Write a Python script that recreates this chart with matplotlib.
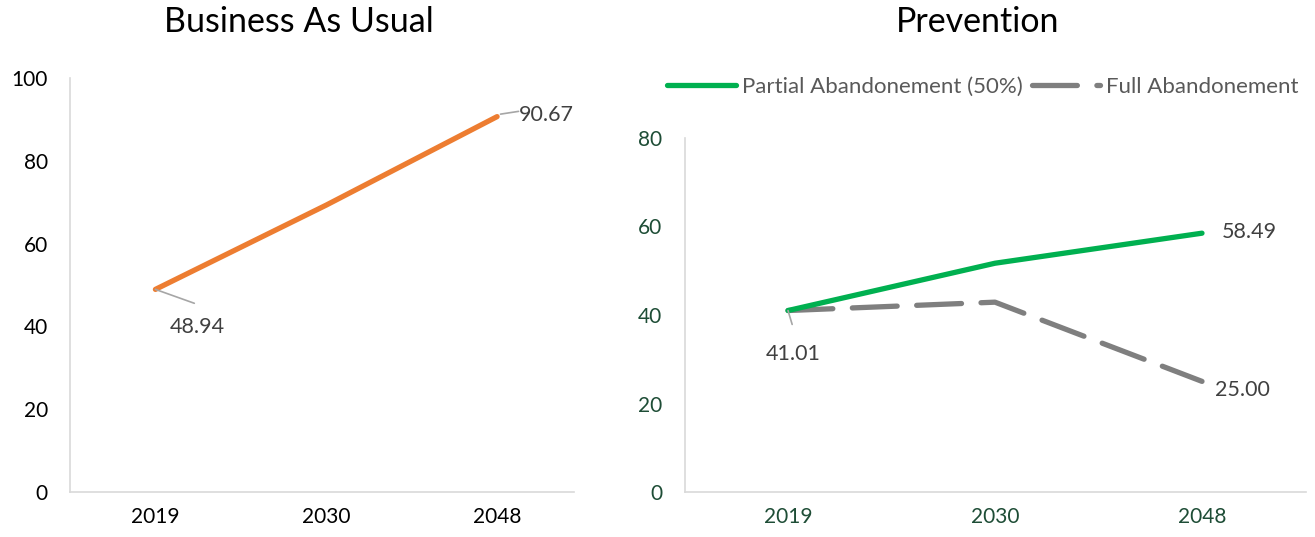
import matplotlib
matplotlib.use("Agg")
import matplotlib.pyplot as plt

plt.rcParams['font.family'] = ['Lato', 'DejaVu Sans']

years = ["2019", "2030", "2048"]
bau = [48.94, 69.3, 90.67]
partial = [41.01, 51.7, 58.49]
full = [41.01, 42.9, 25.00]

ORANGE = "#ED7D31"
GREEN = "#00B050"
GRAY = "#7F7F7F"
AXC = "#D9D9D9"
LBL = "#404040"
DKGREEN = "#1E4D36"

fig = plt.figure(figsize=(13.15, 5.37), dpi=100)
ax1 = fig.add_axes([70/1315, 1-492/537, 512.5/1315, (492-78)/537])
ax2 = fig.add_axes([684.5/1315, 1-492/537, 621/1315, (492-138)/537])

x = list(range(len(years)))

def style(ax, ymax, tickcolor):
    ax.set_xlim(-0.5, 2.5)
    ax.set_ylim(0, ymax)
    ax.set_yticks(range(0, ymax + 1, 20))
    ax.set_xticks(x)
    ax.set_xticklabels(years)
    for s in ['top', 'right']:
        ax.spines[s].set_visible(False)
    for s in ['left', 'bottom']:
        ax.spines[s].set_color(AXC)
        ax.spines[s].set_linewidth(1.2)
    ax.tick_params(axis='y', length=0, pad=16, labelsize=15, labelcolor=tickcolor)
    ax.tick_params(axis='x', length=0, pad=11, labelsize=15, labelcolor=tickcolor)

style(ax1, 100, "#000000")
style(ax2, 80, DKGREEN)
ax1.spines['bottom'].set_bounds(-0.5, 2.45)

ax1.plot(x, bau, color=ORANGE, lw=3.8, solid_capstyle='round', solid_joinstyle='round')
ax2.plot(x, partial, color=GREEN, lw=3.8, solid_capstyle='round', solid_joinstyle='round',
         label="Partial Abandonement (50%)", zorder=3)
ax2.plot(x, full, color=GRAY, lw=3.8, dashes=(8.5, 3.7), dash_capstyle='round',
         label="Full Abandonement", zorder=2)

FS = 15.5
lead = dict(arrowstyle='-', color="#A6A6A6", lw=1.2, shrinkA=0, shrinkB=0)
ax1.annotate(f"{bau[0]:.2f}", xy=(x[0], bau[0]), xytext=(10, -27), textcoords='offset points',
             fontsize=FS, color=LBL, ha='left', va='center')
ax1.annotate("", xy=(x[0], bau[0]), xytext=(28, -10), textcoords='offset points', arrowprops=lead)
ax1.annotate(f"{bau[2]:.2f}", xy=(x[2], bau[2]), xytext=(16, 1), textcoords='offset points',
             fontsize=FS, color=LBL, ha='left', va='center')
ax1.annotate("", xy=(x[2] + 0.02, bau[2] + 0.6), xytext=(13, 2), textcoords='offset points', arrowprops=lead)

ax2.annotate(f"{partial[0]:.2f}", xy=(x[0], partial[0]), xytext=(4, -31), textcoords='offset points',
             fontsize=FS, color=LBL, ha='center', va='center')
ax2.annotate("", xy=(x[0], partial[0]), xytext=(3, -10), textcoords='offset points', arrowprops=lead)
ax2.annotate(f"{partial[2]:.2f}", xy=(x[2], partial[2]), xytext=(34, 1), textcoords='offset points',
             fontsize=FS, color=LBL, ha='center', va='center')
ax2.annotate(f"{full[2]:.2f}", xy=(x[2], full[2]), xytext=(29, -6), textcoords='offset points',
             fontsize=FS, color=LBL, ha='center', va='center')

fig.text(299/1315, 1-22/537, "Business As Usual", fontsize=24.5, ha='center', va='center', color='#000000')
fig.text(978/1315, 1-22/537, "Prevention", fontsize=24.5, ha='center', va='center', color='#000000')

leg = fig.legend(*ax2.get_legend_handles_labels(), loc='center', ncol=2,
                 bbox_to_anchor=(983/1315, 1-87/537), frameon=False, fontsize=16,
                 handlelength=3.1, handletextpad=0.25, columnspacing=0.4, labelcolor="#595959")

fig.savefig("out.png", dpi=100)
